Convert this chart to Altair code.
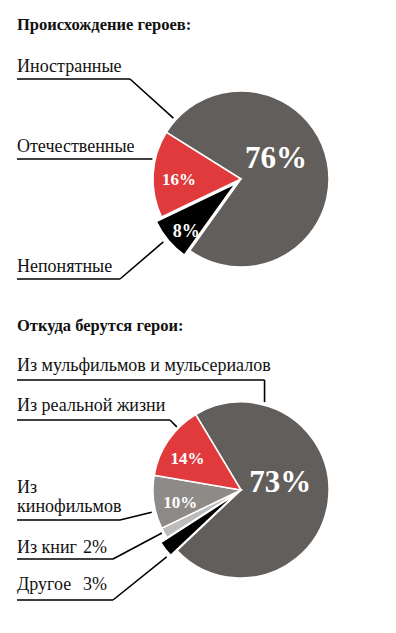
import math
import altair as alt
import pandas as pd

# ---------------- data ----------------
titles = ["Происхождение героев:", "Откуда берутся герои:"]

pie1_cats = ["Иностранные", "Непонятные", "Отечественные"]
pie1_values = [76, 8, 16]

pie2_cats = ["Из мульфильмов и мульсериалов", "Другое", "Из книг",
             "Из кинофильмов", "Из реальной жизни"]
pie2_values = [73, 3, 2, 10, 14]

# label text as printed (line breaks)
display_names = {"Из кинофильмов": "Из\nкинофильмов"}

# ---------------- style / layout ----------------
FONT = "Liberation Serif"
COLORS = {
    "Иностранные": "#625e5b", "Непонятные": "#000000", "Отечественные": "#e03a3c",
    "Из мульфильмов и мульсериалов": "#625e5b", "Другое": "#000000",
    "Из книг": "#bcbcbc", "Из кинофильмов": "#8e8a88", "Из реальной жизни": "#e03a3c",
}
EXPLODE = {"Непонятные": 7, "Другое": 8}
R = 88
W, H = 380, 617
PIES = [
    dict(cats=pie1_cats, values=pie1_values, cx=233, cy=171, start=302,
         title_y=22,
         label_y=[64, 264, 144], under_y=[71, 271, 151], elbow_x=[122, 112, 144],
         end_a=[312, 231, 283], end_r=[91, 100, 91]),
    dict(cats=pie2_cats, values=pie2_values, cx=233, cy=482, start=329,
         title_y=323,
         label_y=[363, 582, 545, 485, 403], under_y=[372, 592, 551, 512, 412],
         elbow_x=[262, 105, 105, 112, 162],
         end_a=[15, 228, 241.5, 256, 314.5], end_r=[91, 100, 90, 92, 90]),
]
LEFT_X = 9
PCT_X = 75
LABEL_SIZE = 18
TITLE_SIZE = 16.5
# in-slice label placement: radius, angle shift (deg), font size
BIG = dict(r=40, shift=-18, size=31)
SMALL = dict(r=62, shift=-4, size=17)

X = lambda f: alt.X(f, scale=None, axis=None)
Y = lambda f: alt.Y(f, scale=None, axis=None)


def pie_layer(p, title_text):
    n = len(p["cats"])
    df = pd.DataFrame({"cat": p["cats"], "value": p["values"], "order": list(range(n))})
    df["color"] = df["cat"].map(COLORS)
    df["explode"] = df["cat"].map(lambda c: EXPLODE.get(c, 0))
    df["pct"] = df["value"].map(lambda v: f"{v}%")
    df["big"] = df["value"] > 50
    df["lr"] = [BIG["r"] if b else (SMALL["r"] + 2 * e) for b, e in zip(df["big"], df["explode"])]
    df["shift"] = [BIG["shift"] if b else SMALL["shift"] for b in df["big"]]
    df["fsize"] = [BIG["size"] if b else SMALL["size"] + (1 if e else 0)
                   for b, e in zip(df["big"], df["explode"])]
    s = math.radians(p["start"])
    base = (
        alt.Chart(df)
        .transform_joinaggregate(total="sum(value)")
        .transform_window(cum="sum(value)", sort=[alt.SortField("order")], frame=[None, 0])
        .transform_calculate(
            a0=f"{s} + 2*PI*(datum.cum - datum.value)/datum.total",
            a1=f"{s} + 2*PI*datum.cum/datum.total",
        )
        .transform_calculate(mid="(datum.a0 + datum.a1)/2")
        .transform_calculate(
            px=f"{p['cx']} + datum.explode*sin(datum.mid)",
            py=f"{p['cy']} - datum.explode*cos(datum.mid)",
            la="datum.mid + datum.shift*PI/180",
        )
        .transform_calculate(
            lx=f"{p['cx']} + datum.lr*sin(datum.la)",
            ly=f"{p['cy']} - datum.lr*cos(datum.la)",
        )
    )
    arcs = base.mark_arc(radius=R, stroke="white", strokeWidth=1.5).encode(
        theta=alt.Theta("a0:Q", scale=None, stack=None),
        theta2="a1:Q",
        x=X("px:Q"), y=Y("py:Q"),
        color=alt.Color("color:N", scale=None),
    )
    inner = base.transform_filter("datum.value >= 5").mark_text(
        font=FONT, fontWeight="bold", color="white", align="center", baseline="middle"
    ).encode(x=X("lx:Q"), y=Y("ly:Q"), text="pct:N", size=alt.Size("fsize:Q", scale=None))

    # annotations: names, small-slice percentages, leader lines
    rows = []
    for i, c in enumerate(p["cats"]):
        a = math.radians(p["end_a"][i])
        ex = p["cx"] + p["end_r"][i] * math.sin(a)
        ey = p["cy"] - p["end_r"][i] * math.cos(a)
        rows.append(dict(name=display_names.get(c, c), ly=p["label_y"][i], x0=LEFT_X,
                         uy=p["under_y"][i], elx=min(p["elbow_x"][i], ex), ex=ex, ey=ey,
                         pct=f"{p['values'][i]}%" if p["values"][i] < 5 else ""))
    ann = pd.DataFrame(rows)
    names = alt.Chart(ann).mark_text(
        font=FONT, fontSize=LABEL_SIZE, align="left", baseline="alphabetic", color="#111",
        lineBreak="\n", lineHeight=19,
    ).encode(x=X("x0:Q"), y=Y("ly:Q"), text="name:N")
    pcts = alt.Chart(ann).transform_filter("datum.pct != ''").mark_text(
        font=FONT, fontSize=LABEL_SIZE, align="left", baseline="alphabetic", color="#111",
        dx=PCT_X - LEFT_X,
    ).encode(x=X("x0:Q"), y=Y("ly:Q"), text="pct:N")
    hline = alt.Chart(ann).mark_rule(color="black", strokeWidth=1.6).encode(
        x=X("x0:Q"), x2="elx:Q", y=Y("uy:Q"), y2="uy:Q")
    dline = alt.Chart(ann).mark_rule(color="black", strokeWidth=1.6).encode(
        x=X("elx:Q"), y=Y("uy:Q"), x2="ex:Q", y2="ey:Q")
    tdf = pd.DataFrame({"t": [title_text], "x0": [LEFT_X], "ty": [p["title_y"]]})
    title = alt.Chart(tdf).mark_text(
        font=FONT, fontSize=TITLE_SIZE, fontWeight="bold", align="left", baseline="alphabetic",
        color="#111",
    ).encode(x=X("x0:Q"), y=Y("ty:Q"), text="t:N")
    return [hline, dline, arcs, inner, names, pcts, title]


layers = []
for p, t in zip(PIES, titles):
    layers += pie_layer(p, t)

chart = alt.layer(*layers).properties(
    width=W, height=H, padding=0, autosize=alt.AutoSizeParams(type="none"),
    background="white",
).configure_view(stroke=None)

chart.save("out.html", embed_options={"renderer": "svg", "actions": False})
